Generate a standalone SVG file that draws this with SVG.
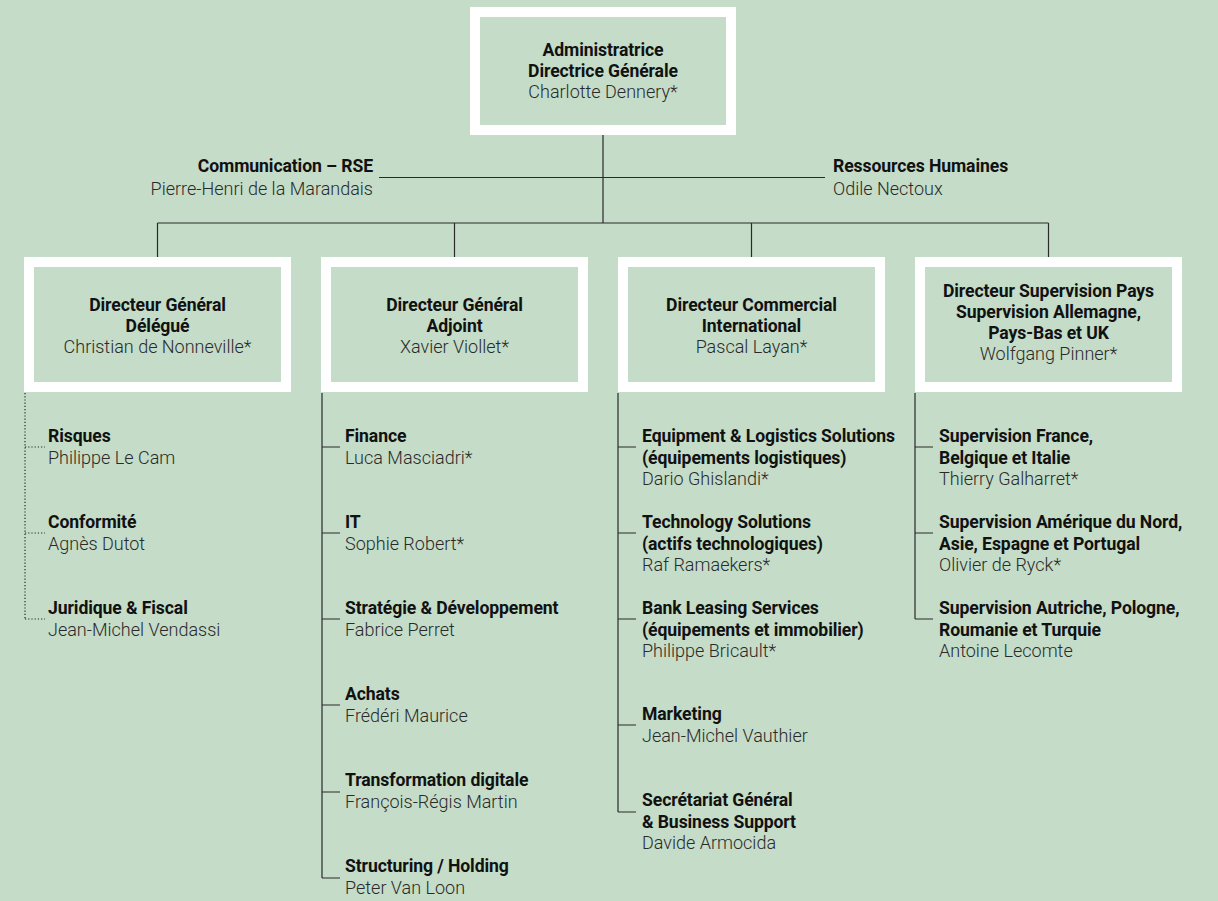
<svg xmlns="http://www.w3.org/2000/svg" width="1218" height="901" viewBox="0 0 1218 901">
<style>
.bg{fill:#c4dcc8}
.frame{fill:none;stroke:#ffffff;stroke-width:10}
.t{font-family:Roboto,"Liberation Sans",sans-serif;font-size:17.6px;fill:#111;font-weight:700;letter-spacing:-0.1px}
.n{font-family:Roboto,"Liberation Sans",sans-serif;font-size:18px;fill:#2a2a2a;font-weight:300}
.c{text-anchor:middle}
.r{text-anchor:end}
.ln{fill:none;stroke:#2a2a2a;stroke-width:1.2}
.dot{fill:none;stroke:#2a2a2a;stroke-width:1.2;stroke-dasharray:1.2 2}
</style>
<rect class="bg" x="0" y="0" width="1218" height="901"/>
<g id="connectors">
<path class="ln" d="M603 135V223M379 177.5H825M157.5 223H1048.5M157.5 223V257M454.5 223V257M751.5 223V257M1048.5 223V257"/>
<path class="dot" d="M25 393V619M25 447H45M25 533H45M25 619H45"/>
<path class="ln" d="M322 393V878M322 447H340M322 533H340M322 619H340M322 705H340M322 792H340M322 878H340"/>
<path class="ln" d="M618 393V812M618 447H636M618 533H636M618 619H636M618 725H636M618 812H636"/>
<path class="ln" d="M915 393V619M915 447H933M915 533H933M915 619H933"/>
</g>
<g id="ceo">
<rect class="frame" x="475" y="12" width="256" height="118"/>
<text class="t c" x="603" y="56">Administratrice</text>
<text class="t c" x="603" y="77">Directrice Générale</text>
<text class="n c" x="603" y="98">Charlotte Dennery*</text>
</g>
<g id="communication">
<text class="t r" x="373" y="172">Communication – RSE</text>
<text class="n r" x="373" y="195">Pierre-Henri de la Marandais</text>
</g>
<g id="rh">
<text class="t" x="833" y="172">Ressources Humaines</text>
<text class="n" x="833" y="195">Odile Nectoux</text>
</g>
<g id="dg-delegue">
<rect class="frame" x="29" y="262" width="257" height="125"/>
<text class="t c" x="157.5" y="311">Directeur Général</text>
<text class="t c" x="157.5" y="332">Délégué</text>
<text class="n c" x="157.5" y="353">Christian de Nonneville*</text>
</g>
<g id="dg-adjoint">
<rect class="frame" x="326" y="262" width="257" height="125"/>
<text class="t c" x="454.5" y="311">Directeur Général</text>
<text class="t c" x="454.5" y="332">Adjoint</text>
<text class="n c" x="454.5" y="353">Xavier Viollet*</text>
</g>
<g id="dir-commercial">
<rect class="frame" x="623" y="262" width="257" height="125"/>
<text class="t c" x="751.5" y="311">Directeur Commercial</text>
<text class="t c" x="751.5" y="332">International</text>
<text class="n c" x="751.5" y="353">Pascal Layan*</text>
</g>
<g id="dir-supervision">
<rect class="frame" x="920" y="262" width="257" height="125"/>
<text class="t c" x="1048.5" y="297">Directeur Supervision Pays</text>
<text class="t c" x="1048.5" y="318">Supervision Allemagne,</text>
<text class="t c" x="1048.5" y="339">Pays-Bas et UK</text>
<text class="n c" x="1048.5" y="360">Wolfgang Pinner*</text>
</g>
<g id="risques"><text class="t" x="48" y="442">Risques</text><text class="n" x="48" y="464">Philippe Le Cam</text></g>
<g id="conformite"><text class="t" x="48" y="528">Conformité</text><text class="n" x="48" y="550">Agnès Dutot</text></g>
<g id="juridique"><text class="t" x="48" y="614">Juridique &amp; Fiscal</text><text class="n" x="48" y="636">Jean-Michel Vendassi</text></g>
<g id="finance"><text class="t" x="345" y="442">Finance</text><text class="n" x="345" y="464">Luca Masciadri*</text></g>
<g id="it"><text class="t" x="345" y="528">IT</text><text class="n" x="345" y="550">Sophie Robert*</text></g>
<g id="strategie"><text class="t" x="345" y="614">Stratégie &amp; Développement</text><text class="n" x="345" y="636">Fabrice Perret</text></g>
<g id="achats"><text class="t" x="345" y="700">Achats</text><text class="n" x="345" y="722">Frédéri Maurice</text></g>
<g id="transformation"><text class="t" x="345" y="786">Transformation digitale</text><text class="n" x="345" y="808">François-Régis Martin</text></g>
<g id="structuring"><text class="t" x="345" y="872">Structuring / Holding</text><text class="n" x="345" y="894">Peter Van Loon</text></g>
<g id="els"><text class="t" x="642" y="442">Equipment &amp; Logistics Solutions</text><text class="t" x="642" y="463.5">(équipements logistiques)</text><text class="n" x="642" y="485">Dario Ghislandi*</text></g>
<g id="ts"><text class="t" x="642" y="528">Technology Solutions</text><text class="t" x="642" y="549.5">(actifs technologiques)</text><text class="n" x="642" y="571">Raf Ramaekers*</text></g>
<g id="bls"><text class="t" x="642" y="614">Bank Leasing Services</text><text class="t" x="642" y="635.5">(équipements et immobilier)</text><text class="n" x="642" y="657">Philippe Bricault*</text></g>
<g id="marketing"><text class="t" x="642" y="720">Marketing</text><text class="n" x="642" y="742">Jean-Michel Vauthier</text></g>
<g id="secretariat"><text class="t" x="642" y="806">Secrétariat Général</text><text class="t" x="642" y="827.5">&amp; Business Support</text><text class="n" x="642" y="849">Davide Armocida</text></g>
<g id="sup-france"><text class="t" x="939" y="442">Supervision France,</text><text class="t" x="939" y="463.5">Belgique et Italie</text><text class="n" x="939" y="485">Thierry Galharret*</text></g>
<g id="sup-amerique"><text class="t" x="939" y="528">Supervision Amérique du Nord,</text><text class="t" x="939" y="549.5">Asie, Espagne et Portugal</text><text class="n" x="939" y="571">Olivier de Ryck*</text></g>
<g id="sup-autriche"><text class="t" x="939" y="614">Supervision Autriche, Pologne,</text><text class="t" x="939" y="635.5">Roumanie et Turquie</text><text class="n" x="939" y="657">Antoine Lecomte</text></g>
</svg>
